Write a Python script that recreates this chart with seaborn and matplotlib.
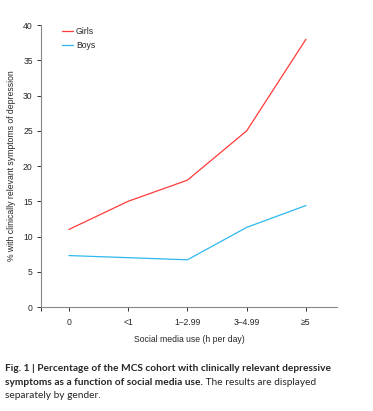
import matplotlib
matplotlib.use("Agg")
import matplotlib.pyplot as plt
import pandas as pd
import seaborn as sns

# data
usage = ["0", "<1", "1–2.99", "3–4.99", "≥5"]
girls = [11.0, 15.0, 18.0, 25.0, 38.0]
boys = [7.3, 7.0, 6.7, 11.3, 14.4]
y_ticks = [0, 5, 10, 15, 20, 25, 30, 35, 40]

df = pd.DataFrame({
    "usage": usage * 2,
    "pct": girls + boys,
    "gender": ["Girls"] * len(usage) + ["Boys"] * len(usage),
})

sns.set_style("ticks")
plt.rcParams["font.family"] = ["Liberation Sans", "DejaVu Sans"]

fig = plt.figure(figsize=(3.73, 4.11), dpi=100)
ax = fig.add_axes([0.110, 0.253, 0.793, 0.686])

sns.lineplot(
    data=df, x="usage", y="pct", hue="gender", sort=False,
    palette={"Girls": "#ff3b3b", "Boys": "#2fb8ef"}, linewidth=0.9, ax=ax,
)

fs_ax = 6.2
ax.set_xlim(-0.47, 4.52)
ax.set_ylim(0, 40)
ax.set_yticks(y_ticks)
ax.set_xticks([-0.47], minor=True)
sns.despine(ax=ax)
for s in ["left", "bottom"]:
    ax.spines[s].set_color("#888888")
    ax.spines[s].set_linewidth(0.8)
ax.tick_params(which="both", length=3, width=0.7, color="#333333", labelsize=fs_ax, pad=3)
ax.tick_params(axis="x", pad=5)
ax.set_xlabel("Social media use (h per day)", fontsize=fs_ax, labelpad=6)
ax.set_ylabel("% with clinically relevant symptoms of depression", fontsize=fs_ax, labelpad=5)
ax.legend(loc="upper left", bbox_to_anchor=(0.045, 1.02), frameon=False, fontsize=fs_ax,
          handlelength=1.3, handletextpad=0.3, labelspacing=0.6)

# caption: bold lead followed by regular text
cap_font = ["Lato", "DejaVu Sans"]
fs = 7.3
y1, y2, y3 = 0.098, 0.064, 0.032
t1 = fig.text(0.013, y1, "Fig. 1 | Percentage of the MCS cohort with clinically relevant depressive",
              fontsize=fs, fontweight="bold", family=cap_font)
t2 = fig.text(0.013, y2, "symptoms as a function of social media use.",
              fontsize=fs, fontweight="bold", family=cap_font)
fig.canvas.draw()
bb = t2.get_window_extent()
x_end = fig.transFigure.inverted().transform((bb.x1, bb.y0))[0]
fig.text(x_end, y2, " The results are displayed", fontsize=fs, family=cap_font)
fig.text(0.013, y3, "separately by gender.", fontsize=fs, family=cap_font)

fig.savefig("out.png", dpi=100)
